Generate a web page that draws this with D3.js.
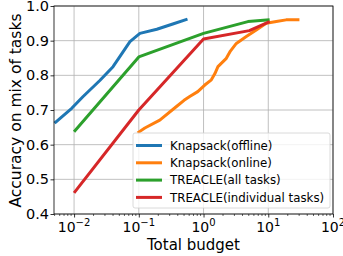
<!DOCTYPE html>
<html>
<head>
<meta charset="utf-8">
<script src="https://cdn.jsdelivr.net/npm/d3@7"></script>
<style>
  body { margin: 0; background: #fff; }
  svg { display: block; font-family: "DejaVu Sans", sans-serif; }
</style>
</head>
<body>
<script>
// series: [budget, accuracy]
const knapsackOffline = [[0.005,0.662],[0.0092,0.705],[0.0138,0.739],[0.025,0.785],[0.04,0.825],[0.073,0.897],[0.104,0.921],[0.19,0.933],[0.335,0.948],[0.565,0.962]];
const knapsackOnline = [[0.096,0.634],[0.124,0.648],[0.211,0.671],[0.382,0.71],[0.5,0.728],[0.612,0.739],[0.814,0.753],[1.045,0.772],[1.32,0.787],[1.5,0.805],[1.67,0.825],[2.25,0.849],[2.6,0.87],[3.21,0.892],[4.58,0.912],[6.53,0.931],[9.3,0.95],[13.3,0.955],[18.9,0.96],[30.3,0.96]];
const treacleAll = [[0.01,0.637],[0.1,0.853],[1.0,0.921],[4.85,0.955],[10.5,0.96]];
const treacleInd = [[0.01,0.461],[0.1,0.70],[1.0,0.905],[5.1,0.929],[10.5,0.955]];

const seriesNames = ["Knapsack(offline)","Knapsack(online)","TREACLE(all tasks)","TREACLE(individual tasks)"];
const seriesData = [knapsackOffline, knapsackOnline, treacleAll, treacleInd];
const colors = ["#1f77b4","#ff7f0e","#2ca02c","#d62728"];
const yTicks = [0.4,0.5,0.6,0.7,0.8,0.9,1.0];
const xTicks = [0.01,0.1,1,10,100];
const xExp = ["\u22122","\u22121","0","1","2"];

const W = 343, H = 256;
const margin = {left: 54, right: 10, top: 6, bottom: 42};
const iw = W - margin.left - margin.right;
const ih = H - margin.top - margin.bottom;

const svg = d3.select("body").append("svg").attr("width", W).attr("height", H);
const g = svg.append("g").attr("transform", `translate(${margin.left},${margin.top})`);

const x = d3.scaleLog().domain([Math.pow(10,-2.31), 100]).range([0, iw]);
const y = d3.scaleLinear().domain([0.4, 1.0]).range([ih, 0]);

// grid
g.append("g").selectAll("line").data(xTicks).enter().append("line")
  .attr("x1", d => x(d)).attr("x2", d => x(d)).attr("y1", 0).attr("y2", ih)
  .attr("stroke", "#b0b0b0").attr("stroke-width", 0.8);
g.append("g").selectAll("line").data(yTicks).enter().append("line")
  .attr("x1", 0).attr("x2", iw).attr("y1", d => y(d)).attr("y2", d => y(d))
  .attr("stroke", "#b0b0b0").attr("stroke-width", 0.8);

// lines
const line = d3.line().x(d => x(d[0])).y(d => y(d[1]));
g.append("g").selectAll("path").data(seriesData).enter().append("path")
  .attr("d", d => line(d))
  .attr("fill", "none")
  .attr("stroke", (d, i) => colors[i])
  .attr("stroke-width", 3)
  .attr("stroke-linejoin", "round");

// axes
const xAxis = d3.axisBottom(x).tickValues(xTicks).tickSize(3.5).tickFormat("");
const gx = g.append("g").attr("transform", `translate(0,${ih})`).call(xAxis);
gx.select(".domain").remove();
gx.selectAll("line").attr("stroke", "#000").attr("stroke-width", 0.8);

// minor ticks
const minor = [];
for (let e = -3; e < 2; e++) for (let k = 2; k <= 9; k++) {
  const v = k * Math.pow(10, e);
  if (v >= x.domain()[0] && v <= 100) minor.push(v);
}
g.append("g").selectAll("line").data(minor).enter().append("line")
  .attr("x1", d => x(d)).attr("x2", d => x(d)).attr("y1", ih).attr("y2", ih + 2)
  .attr("stroke", "#000").attr("stroke-width", 0.6);

const xl = g.append("g").selectAll("text").data(xTicks).enter().append("text")
  .attr("x", d => x(d)).attr("y", ih + 18)
  .attr("text-anchor", "middle").attr("font-size", 14).attr("fill", "#000");
xl.append("tspan").text("10");
xl.append("tspan").text((d, i) => xExp[i]).attr("dy", -6).attr("font-size", 10);

const yAxis = d3.axisLeft(y).tickValues(yTicks).tickSize(3.5).tickFormat(d3.format(".1f"));
const gy = g.append("g").call(yAxis);
gy.select(".domain").remove();
gy.selectAll("line").attr("stroke", "#000").attr("stroke-width", 0.8);
gy.selectAll("text").attr("font-size", 14.5).attr("font-family", "DejaVu Sans").attr("fill", "#000").attr("x", -5);

// frame
g.append("rect").attr("width", iw).attr("height", ih)
  .attr("fill", "none").attr("stroke", "#000").attr("stroke-width", 0.8);

// axis titles
svg.append("text").attr("x", margin.left + iw / 2).attr("y", 250)
  .attr("text-anchor", "middle").attr("font-size", 15).text("Total budget");
svg.append("text").attr("transform", "translate(21,110.5) rotate(-90)")
  .attr("text-anchor", "middle").attr("font-size", 15.5).text("Accuracy on mix of tasks");

// legend
const lg = svg.append("g").attr("transform", "translate(133,133)");
lg.append("rect").attr("width", 197).attr("height", 75).attr("rx", 2)
  .attr("fill", "#fff").attr("fill-opacity", 0.8).attr("stroke", "#d0d0d0").attr("stroke-width", 0.8);
const items = lg.selectAll("g.item").data(seriesNames).enter().append("g")
  .attr("transform", (d, i) => `translate(0,${12.5 + i * 17.3})`);
items.append("line").attr("x1", 3).attr("x2", 29).attr("y1", 0).attr("y2", 0)
  .attr("stroke", (d, i) => colors[i]).attr("stroke-width", 3);
items.append("text").attr("x", 37).attr("y", 4.2).attr("font-size", 11.8).text(d => d);
</script>
</body>
</html>
